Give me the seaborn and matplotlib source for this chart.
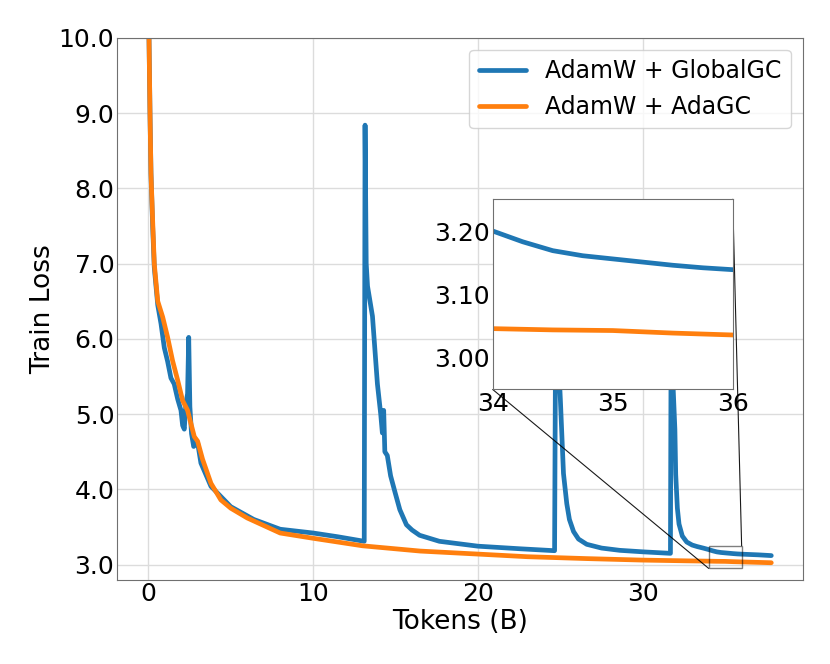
import numpy as np
import pandas as pd
import matplotlib
matplotlib.use('Agg')
import matplotlib.pyplot as plt
import seaborn as sns
from matplotlib.ticker import FormatStrFormatter

# Train loss curves (tokens in billions)
global_x = [0, 0.04, 0.1, 0.16, 0.26, 0.36, 0.57, 0.77, 0.97, 1.17, 1.37, 1.57, 1.78, 1.98,
            2.08, 2.18, 2.28, 2.38, 2.45, 2.52, 2.62, 2.75, 2.99, 3.19, 3.8, 5.0, 6.4, 8.0,
            10.0, 11.5, 13.1, 13.15, 13.22, 13.3, 13.6, 13.9, 14.1, 14.2, 14.28, 14.35, 14.5,
            14.7, 14.97, 15.26, 15.66, 16.0, 16.46, 17.66, 20.0, 22.6, 24.65, 24.72, 25.0,
            25.19, 25.39, 25.55, 25.8, 26.1, 26.6, 27.5, 28.6, 30.0, 31.68, 31.72, 31.95,
            32.0, 32.1, 32.2, 32.4, 32.67, 33.0, 33.3, 33.7, 34.0, 34.25, 34.5, 34.75, 35.0,
            35.25, 35.5, 35.75, 36.0, 37.0, 37.8]
global_y = [11.0, 10.0, 9.0, 8.2, 7.5, 6.95, 6.45, 6.2, 5.88, 5.7, 5.48, 5.4, 5.2, 5.05,
            4.85, 4.8, 5.14, 5.27, 6.02, 5.1, 4.74, 4.57, 4.62, 4.35, 4.04, 3.77, 3.6, 3.47,
            3.42, 3.37, 3.31, 8.84, 7.0, 6.7, 6.3, 5.4, 5.0, 4.75, 5.05, 4.5, 4.45,
            4.18, 3.96, 3.73, 3.53, 3.46, 3.39, 3.31, 3.245, 3.21, 3.185, 6.5, 5.2,
            4.21, 3.81, 3.6, 3.44, 3.34, 3.27, 3.22, 3.19, 3.17, 3.15, 6.0, 4.8,
            4.2, 3.75, 3.54, 3.38, 3.3, 3.26, 3.24, 3.218, 3.20, 3.183, 3.169, 3.161, 3.156,
            3.151, 3.146, 3.142, 3.139, 3.13, 3.12]

ada_x = [0, 0.04, 0.1, 0.16, 0.26, 0.36, 0.57, 0.87, 1.17, 1.47, 1.78, 2.08, 2.38, 2.59,
         2.79, 2.99, 3.29, 3.8, 4.4, 5.0, 6.0, 8.0, 10.0, 13.0, 16.5, 20.0, 23.0, 26.6,
         30.0, 32.7, 34.0, 34.5, 35.0, 35.5, 36.0, 37.8]
ada_y = [11.0, 10.0, 9.0, 8.2, 7.58, 7.0, 6.5, 6.29, 6.02, 5.71, 5.45, 5.18, 5.05, 4.87,
         4.7, 4.64, 4.4, 4.08, 3.86, 3.75, 3.62, 3.42, 3.35, 3.25, 3.18, 3.14, 3.105, 3.08,
         3.06, 3.05, 3.046, 3.044, 3.043, 3.039, 3.036, 3.025]

labels = ['AdamW + GlobalGC', 'AdamW + AdaGC']

df = pd.concat([
    pd.DataFrame({'tokens': global_x, 'loss': global_y, 'method': labels[0]}),
    pd.DataFrame({'tokens': ada_x, 'loss': ada_y, 'method': labels[1]}),
], ignore_index=True)

sns.set_style('whitegrid')
plt.rcParams['font.family'] = ['DejaVu Sans']
plt.rcParams['text.color'] = 'black'
plt.rcParams['axes.labelcolor'] = 'black'
plt.rcParams['xtick.color'] = 'black'
plt.rcParams['ytick.color'] = 'black'
palette = {labels[0]: '#1f77b4', labels[1]: '#ff7f0e'}

fig, ax = plt.subplots(figsize=(8.3, 6.64), dpi=100)
fig.subplots_adjust(left=0.141, right=0.967, top=0.943, bottom=0.127)

sns.lineplot(data=df, x='tokens', y='loss', hue='method', palette=palette,
             estimator=None, sort=False, linewidth=3.4, ax=ax)

ax.set_xlim(-1.9, 39.7)
ax.set_ylim(2.8, 10.0)
ax.set_xticks([0, 10, 20, 30])
ax.set_yticks([3, 4, 5, 6, 7, 8, 9, 10])
ax.yaxis.set_major_formatter(FormatStrFormatter('%.1f'))
ax.tick_params(labelsize=18, length=0, pad=2)
ax.set_xlabel('Tokens (B)', fontsize=19, labelpad=2)
ax.set_ylabel('Train Loss', fontsize=19, labelpad=2)
ax.grid(color='#dcdcdc', linewidth=1)
for s in ax.spines.values():
    s.set_color('#707070')
ax.legend(fontsize=17, loc='upper right')

# zoomed inset
axins = ax.inset_axes([0.548, 0.351, 0.35, 0.351])
sns.lineplot(data=df, x='tokens', y='loss', hue='method', palette=palette,
             estimator=None, sort=False, linewidth=3.4, ax=axins, legend=False)
axins.set_xlim(34, 36)
axins.set_ylim(2.95, 3.25)
axins.set_xticks([34, 35, 36])
axins.set_yticks([3.0, 3.1, 3.2])
axins.yaxis.set_major_formatter(FormatStrFormatter('%.2f'))
axins.tick_params(labelsize=18, length=0, pad=2)
axins.set_xlabel('')
axins.set_ylabel('')
axins.grid(False)
for s in axins.spines.values():
    s.set_color('#707070')
ind = ax.indicate_inset_zoom(axins, edgecolor='black')
for c in ind.connectors:
    c.set_alpha(0.9)
    c.set_linewidth(0.8)

fig.savefig('out.png', dpi=100)
